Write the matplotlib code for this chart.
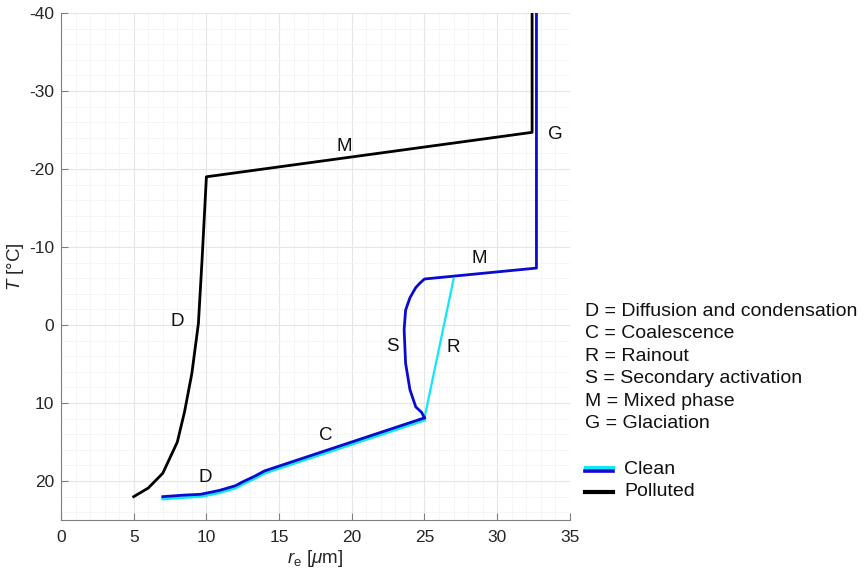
import matplotlib
matplotlib.use("Agg")
import matplotlib.pyplot as plt
from matplotlib.lines import Line2D
from matplotlib.ticker import MultipleLocator

plt.rcParams["font.family"] = ["Liberation Sans", "DejaVu Sans"]
plt.rcParams["mathtext.fontset"] = "custom"
plt.rcParams["mathtext.rm"] = "Liberation Sans"
plt.rcParams["mathtext.it"] = "Liberation Sans:italic"
plt.rcParams["axes.unicode_minus"] = False

# clean cloud: shared warm part, then rainout (cyan) / secondary activation + mixed + glaciation (blue)
clean_warm_re = [7.0, 8.5, 9.6, 10.9, 12.0, 12.5, 13.3, 14.0, 25.0]
clean_warm_t = [22.0, 21.8, 21.7, 21.2, 20.6, 20.1, 19.4, 18.7, 11.9]
rain_re = [25.0, 27.0]
rain_t = [11.9, -5.9]
sec_re = [25.0, 24.8, 24.4, 24.0, 23.7, 23.6, 23.7, 24.0, 24.4, 24.7, 25.0, 32.7, 32.7]
sec_t = [11.9, 11.2, 10.5, 8.3, 4.9, 0.6, -1.9, -3.5, -4.8, -5.4, -5.9, -7.3, -40.0]

# polluted cloud
poll_re = [5.0, 6.0, 7.0, 7.5, 8.0, 8.5, 9.0, 9.45, 9.7, 10.0, 32.4, 32.4]
poll_t = [22.0, 20.9, 19.0, 17.0, 15.0, 11.1, 6.2, -0.2, -8.3, -19.0, -24.7, -40.0]

labels = [("M", 19.5, -22.9), ("G", 34.0, -24.4), ("M", 28.8, -8.5), ("D", 8.0, -0.4),
          ("S", 22.8, 2.8), ("R", 27.0, 2.9), ("C", 18.2, 14.1), ("D", 9.9, 19.5)]
key_lines = ["D = Diffusion and condensation", "C = Coalescence", "R = Rainout",
             "S = Secondary activation", "M = Mixed phase", "G = Glaciation"]

fig = plt.figure(figsize=(8.64, 5.74), dpi=100)
ax = fig.add_axes([0.0706, 0.094, 0.589, 0.8834])

blue = "#0a0ad2"
cyan = "#10e8f8"

ax.plot(poll_re, poll_t, color="black", lw=2.0, zorder=3)
ax.plot(clean_warm_re, [t + 0.3 for t in clean_warm_t], color=cyan, lw=2.0, zorder=3)
ax.plot(rain_re, rain_t, color=cyan, lw=1.6, zorder=3)
ax.plot(clean_warm_re, clean_warm_t, color=blue, lw=2.0, zorder=4)
ax.plot(sec_re, sec_t, color=blue, lw=2.0, zorder=4)

for s, x, y in labels:
    ax.text(x, y, s, fontsize=13.5, ha="center", va="center", color="#111111")

ax.set_xlim(0, 35)
ax.set_ylim(25, -40)
ax.xaxis.set_major_locator(MultipleLocator(5))
ax.xaxis.set_minor_locator(MultipleLocator(1))
ax.yaxis.set_major_locator(MultipleLocator(10))
ax.yaxis.set_minor_locator(MultipleLocator(2))
ax.grid(True, which="major", color="#e6e6e6", lw=0.8)
ax.grid(True, which="minor", color="#efefef", lw=0.6, linestyle=(0, (2, 1)))
ax.set_axisbelow(True)
for side in ("top", "right"):
    ax.spines[side].set_visible(False)
for side in ("left", "bottom"):
    ax.spines[side].set_color("#808080")
ax.tick_params(which="major", direction="in", length=5, color="#808080",
               labelsize=12.5, labelcolor="#262626")
ax.tick_params(axis="x", which="major", pad=7)
ax.tick_params(axis="y", which="major", pad=5)
ax.tick_params(which="minor", length=0)

ax.set_xlabel(r"$r_\mathrm{e}$ [$\mu$m]", fontsize=13.5, color="#262626", labelpad=2)
ax.set_ylabel(r"$T$ [°C]", fontsize=13.5, color="#262626", labelpad=2)

for i, line in enumerate(key_lines):
    fig.text(585 / 864, 1 - (311 + 22.6 * i) / 574, line, fontsize=14,
             va="center", ha="left", color="#111111")

# manual legend
lx0, lx1 = 585 / 864, 613 / 864
y_clean = 1 - 469 / 574
y_poll = 1 - 492 / 574
fig.add_artist(Line2D([lx0, lx1], [y_clean + 0.004, y_clean + 0.004], color=cyan, lw=2.2))
fig.add_artist(Line2D([lx0, lx1], [y_clean - 0.003, y_clean - 0.003], color=blue, lw=2.6))
fig.add_artist(Line2D([lx0, lx1], [y_poll, y_poll], color="black", lw=3))
fig.text(624 / 864, y_clean, "Clean", fontsize=14, va="center", color="#111111")
fig.text(624 / 864, y_poll, "Polluted", fontsize=14, va="center", color="#111111")

fig.savefig("out.png", dpi=100)
